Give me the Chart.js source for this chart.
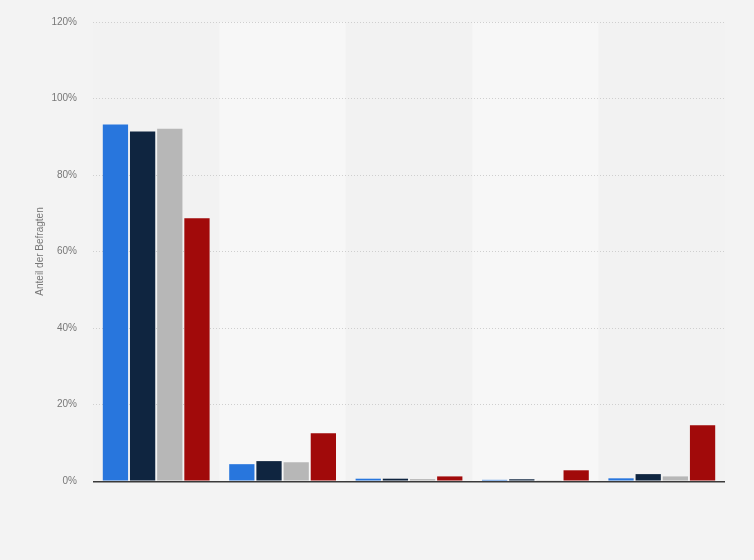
<!DOCTYPE html>
<html>
<head>
<meta charset="utf-8">
<script src="https://cdn.jsdelivr.net/npm/chart.js@4/dist/chart.umd.min.js"></script>
<style>
  html, body { margin: 0; padding: 0; background: #f3f3f3; }
  #wrap { width: 754px; height: 560px; position: relative; }
</style>
</head>
<body>
<div id="wrap"><canvas id="chart"></canvas></div>
<script>
// five answer groups (no visible labels in the source), four series each
const categories = ["", "", "", "", ""];
const series1 = [93.2, 4.4, 0.6, 0.3, 0.7];
const series2 = [91.4, 5.2, 0.6, 0.45, 1.8];
const series3 = [92.1, 4.9, 0.5, 0.2, 1.2];
const series4 = [68.7, 12.5, 1.2, 2.8, 14.6];
const yTicks = [0, 20, 40, 60, 80, 100, 120];

const colors = ["#2876dd", "#0f2540", "#b7b7b7", "#a10a0a"];

// alternating column shading, painted before grid and bars
const bands = {
  id: "bands",
  beforeDraw(c) {
    const { ctx, chartArea: a, scales: { x } } = c;
    const w = (a.right - a.left) / categories.length;
    ctx.save();
    categories.forEach((_, i) => {
      const cx = x.getPixelForValue(i);
      ctx.fillStyle = i % 2 ? "#f7f7f7" : "#f2f2f2";
      ctx.fillRect(cx - w / 2, a.top, w, a.bottom - a.top);
    });
    ctx.restore();
  },
  // baseline goes under the bars so the tiny ones stay visible
  beforeDatasetsDraw(c) {
    const { ctx, chartArea: a, scales: { y } } = c;
    const y0 = y.getPixelForValue(0);
    ctx.save();
    ctx.strokeStyle = "#3a3a3a"; ctx.lineWidth = 1.5;
    ctx.beginPath(); ctx.moveTo(a.left, y0 + 0.75); ctx.lineTo(a.right, y0 + 0.75); ctx.stroke();
    ctx.restore();
  }
};

const ds = (data, i) => ({
  data, backgroundColor: colors[i], borderWidth: 0,
  categoryPercentage: 0.86, barPercentage: 0.93
});

new Chart(document.getElementById("chart"), {
  type: "bar",
  data: { labels: categories, datasets: [series1, series2, series3, series4].map(ds) },
  options: {
    responsive: true, maintainAspectRatio: false, animation: false,
    layout: { padding: { top: 20, right: 29, bottom: 79, left: 30 } },
    plugins: { legend: { display: false }, tooltip: { enabled: false } },
    scales: {
      x: {
        grid: { display: false, drawTicks: false },
        border: { display: false },
        ticks: { display: false }
      },
      y: {
        min: 0, max: 120,
        afterBuildTicks: s => { s.ticks = yTicks.map(v => ({ value: v })); },
        afterFit: s => { s.width = 63; },
        grid: { color: "#cfcfcf", drawTicks: false },
        border: { display: false, dash: [1, 2] },
        ticks: { color: "#777", font: { family: "Liberation Sans, Arial", size: 10 }, padding: 16, callback: v => v + "%" },
        title: { display: true, text: "Anteil der Befragten", color: "#777", font: { family: "Liberation Sans, Arial", size: 10 }, padding: { bottom: 14 } }
      }
    }
  },
  plugins: [bands]
});
</script>
</body>
</html>
